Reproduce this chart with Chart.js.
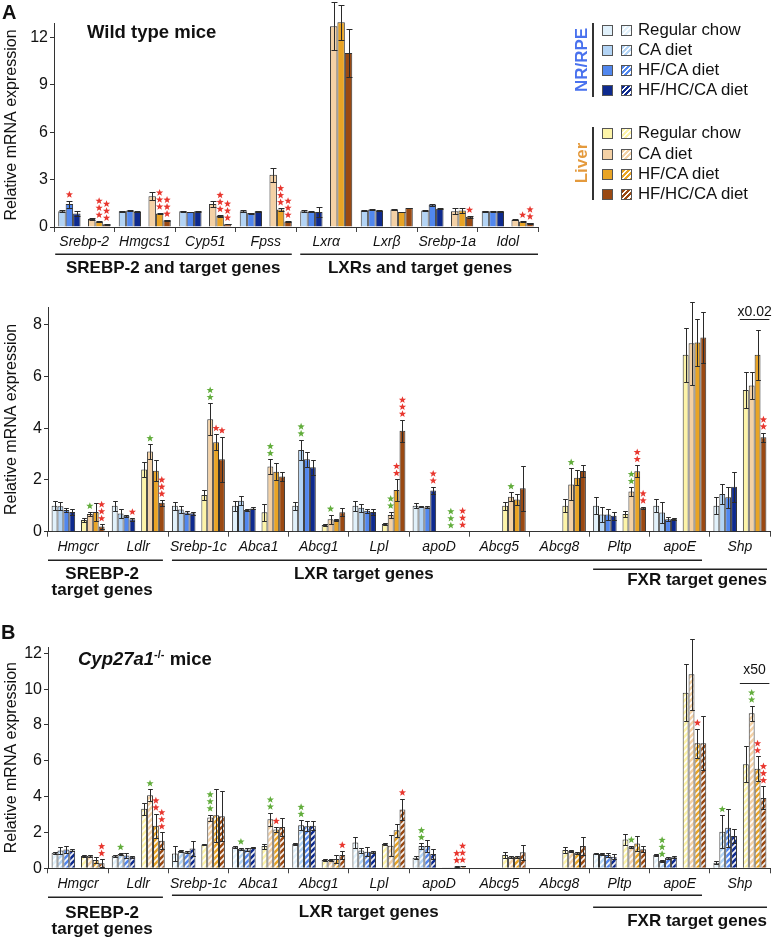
<!DOCTYPE html>
<html>
<head>
<meta charset="utf-8">
<title>Relative mRNA expression</title>
<script src="https://cdn.jsdelivr.net/npm/chart.js@4.4.1/dist/chart.umd.min.js"></script>
<style>
  body { margin: 0; background: #fff; }
  #fig { position: relative; width: 774px; height: 938px; overflow: hidden; font-family: "Liberation Sans", Arial, sans-serif; color: #111; }
  #fig canvas { position: absolute; left: 0; }
  .txt { position: absolute; white-space: nowrap; font-weight: bold; }
  .tissue { position: absolute; font-weight: bold; font-size: 17px; transform: translate(-50%, -50%) rotate(-90deg); white-space: nowrap; }
  .vline { position: absolute; width: 2px; background: #333; }
  .row { position: absolute; height: 18px; line-height: 18px; font-size: 16.8px; white-space: nowrap; }
  .sw { position: absolute; width: 11px; height: 11px; border: 1px solid #555; box-sizing: border-box; }
</style>
</head>
<body>
<div id="fig">
  <canvas id="wtTop" width="774" height="290" style="top:0px"></canvas>
  <canvas id="wtBottom" width="774" height="330" style="top:290px"></canvas>
  <canvas id="koChart" width="774" height="348" style="top:590px"></canvas>
  <div class="txt" style="left:2px; top:1px; font-size:20px;">A</div>
  <div class="txt" style="left:87px; top:21px; font-size:18.5px;">Wild type mice</div>
  <div class="txt" style="left:1px; top:621px; font-size:20px;">B</div>
  <div class="txt" style="left:78px; top:648px; font-size:18.5px;"><i>Cyp27a1</i><sup style="font-size:11px">-/-</sup> mice</div>
  <div id="legend"></div>
</div>
<script>
Chart.defaults.font.family = '"Liberation Sans", Arial, sans-serif';
Chart.defaults.color = "#111";

const RED = "#e8372f", GREEN = "#62ad3c";

// LEGEND / COLOURS
const dietLabels = ["Regular chow", "CA diet", "HF/CA diet", "HF/HC/CA diet"];
const retinaColors = ["#e1f1fb", "#b3d4f5", "#5187ee", "#0e2a8e"];
const liverColors = ["#fdf4a8", "#f4d1a5", "#e9a425", "#9a4912"];

// PANEL A, TOP (no regular chow)
const genesTop = ["Srebp-2", "Hmgcs1", "Cyp51", "Fpss", "Lxrα", "Lxrβ", "Srebp-1a", "Idol"];
const topRetCA   = [1.0, 1.0, 1.0, 1.0, 1.0, 1.05, 1.05, 1.0];
const topRetHF   = [1.45, 1.05, 0.95, 0.88, 0.97, 1.1, 1.4, 1.0];
const topRetHFHC = [0.85, 0.97, 1.0, 1.0, 0.95, 1.05, 1.15, 1.0];
const topLivCA   = [0.5, 1.95, 1.45, 3.3, 12.7, 1.1, 1.0, 0.45];
const topLivHF   = [0.35, 0.85, 0.7, 1.1, 12.95, 0.95, 1.05, 0.35];
const topLivHFHC = [0.17, 0.42, 0.18, 0.35, 11.0, 1.2, 0.65, 0.25];
const topRetCAErr   = [0.05, 0.03, 0.03, 0.08, 0.05, 0.03, 0.03, 0.03];
const topRetHFErr   = [0.22, 0.03, 0.03, 0.03, 0.05, 0.03, 0.05, 0.03];
const topRetHFHCErr = [0.15, 0.03, 0.03, 0.03, 0.3, 0.03, 0.04, 0.03];
const topLivCAErr   = [0.06, 0.25, 0.2, 0.45, 1.5, 0.03, 0.2, 0.03];
const topLivHFErr   = [0.03, 0.05, 0.05, 0.08, 1.1, 0.03, 0.15, 0.03];
const topLivHFHCErr = [0.02, 0.03, 0.02, 0.03, 1.5, 0.03, 0.05, 0.03];
// [gene, dataset, count, colour]
const topStars = [
  [0, 1, 1, "r"], [0, 5, 3, "r"], [0, 6, 3, "r"],
  [1, 5, 3, "r"], [1, 6, 3, "r"],
  [2, 5, 3, "r"], [2, 6, 3, "r"],
  [3, 5, 3, "r"], [3, 6, 3, "r"],
  [6, 6, 1, "r"],
  [7, 5, 1, "r"], [7, 6, 2, "r"]
];

// PANEL A, BOTTOM (wild type)
const genesTarget = ["Hmgcr", "Ldlr", "Srebp-1c", "Abca1", "Abcg1", "Lpl", "apoD", "Abcg5", "Abcg8", "Pltp", "apoE", "Shp"];
const wtRetRC   = [1.0, 1.0, 1.0, 1.0, 1.0, 1.0, 1.0, null, null, 1.0, 1.0, 1.0];
const wtRetCA   = [0.98, 0.7, 0.86, 1.2, 3.16, 0.93, 0.97, null, null, 0.67, 0.74, 1.46];
const wtRetHF   = [0.84, 0.62, 0.74, 0.84, 2.8, 0.81, 0.95, null, null, 0.67, 0.48, 1.33];
const wtRetHFHC = [0.76, 0.48, 0.71, 0.9, 2.49, 0.76, 1.59, null, null, 0.62, 0.49, 1.74];
const wtLivRC   = [0.45, 2.41, 1.42, 0.75, 0.26, 0.3, 0.01, 1.0, 1.0, 0.68, 6.84, 5.48];
const wtLivCA   = [0.68, 3.1, 4.35, 2.52, 0.48, 0.65, 0.01, 1.35, 1.83, 1.55, 7.29, 5.65];
const wtLivHF   = [0.76, 2.36, 3.46, 2.32, 0.45, 1.61, 0.01, 1.25, 2.09, 2.34, 7.32, 6.84];
const wtLivHFHC = [0.2, 1.12, 2.8, 2.13, 0.75, 3.9, 0.03, 1.68, 2.35, 0.93, 7.51, 3.65];
const wtRetRCErr   = [0.18, 0.2, 0.15, 0.2, 0.16, 0.2, 0.1, null, null, 0.33, 0.25, 0.33];
const wtRetCAErr   = [0.15, 0.18, 0.12, 0.18, 0.4, 0.15, 0.03, null, null, 0.3, 0.4, 0.4];
const wtRetHFErr   = [0.08, 0.04, 0.05, 0.04, 0.3, 0.08, 0.03, null, null, 0.22, 0.08, 0.4];
const wtRetHFHCErr = [0.1, 0.05, 0.05, 0.04, 0.28, 0.1, 0.15, null, null, 0.15, 0.03, 0.58];
const wtLivRCErr   = [0.08, 0.3, 0.18, 0.32, 0.04, 0.04, 0, 0.16, 0.25, 0.13, 1.05, 0.7];
const wtLivCAErr   = [0.08, 0.28, 0.62, 0.28, 0.17, 0.12, 0, 0.17, 0.62, 0.17, 1.6, 0.52];
const wtLivHFErr   = [0.35, 0.41, 0.31, 0.33, 0.03, 0.42, 0, 0.21, 0.3, 0.23, 0.9, 0.96];
const wtLivHFHCErr = [0.08, 0.11, 0.88, 0.17, 0.15, 0.42, 0, 0.87, 0.23, 0.04, 1.0, 0.18];
const wtStars = [
  [0, 6, 1, "g"], [0, 8, 3, "r"],
  [1, 3, 1, "r"], [1, 6, 1, "g"], [1, 8, 3, "r"],
  [2, 6, 2, "g"], [2, 7, 1, "r"], [2, 8, 1, "r"],
  [3, 6, 2, "g"],
  [4, 1, 2, "g"], [4, 6, 1, "g"],
  [5, 6, 2, "g"], [5, 7, 2, "r"], [5, 8, 3, "r"],
  [6, 3, 2, "r"], [6, 6, 3, "g"], [6, 8, 3, "r"],
  [7, 6, 1, "g"], [8, 6, 1, "g"],
  [9, 6, 2, "g"], [9, 7, 2, "r"], [9, 8, 2, "r"],
  [11, 8, 2, "r"]
];

// PANEL B (Cyp27a1-/-)
const koRetRC   = [0.87, 0.7, 0.83, 1.2, 1.35, 1.44, 0.59, null, null, 0.83, 0.74, 0.31];
const koRetCA   = [1.0, 0.8, 0.96, 1.09, 2.4, 1.0, 1.24, null, null, 0.8, 0.41, 2.04];
const koRetHF   = [1.05, 0.72, 0.9, 1.05, 2.35, 0.93, 1.24, null, null, 0.74, 0.59, 2.26];
const koRetHFHC = [1.0, 0.65, 1.1, 1.15, 2.37, 0.93, 0.8, null, null, 0.65, 0.61, 1.8];
const koLivRC   = [0.68, 3.33, 1.33, 1.24, 0.46, 1.35, 0.02, 0.74, 1.02, 1.61, 9.8, 5.8];
const koLivCA   = [0.7, 4.07, 2.83, 2.74, 0.46, 1.26, 0.02, 0.65, 0.96, 1.2, 10.83, 8.65];
const koLivHF   = [0.46, 2.37, 2.96, 2.17, 0.52, 2.13, 0.1, 0.65, 0.87, 1.39, 6.98, 5.56];
const koLivHFHC = [0.28, 1.54, 2.9, 2.31, 0.74, 3.28, 0.12, 0.89, 1.24, 1.07, 6.98, 3.93];
const koRetRCErr   = [0.05, 0.05, 0.4, 0.05, 0.05, 0.28, 0.08, null, null, 0.05, 0.05, 0.08];
const koRetCAErr   = [0.2, 0.05, 0.05, 0.06, 0.29, 0.15, 0.15, null, null, 0.05, 0.05, 0.92];
const koRetHFErr   = [0.2, 0.15, 0.05, 0.08, 0.28, 0.24, 0.33, null, null, 0.1, 0.05, 1.07];
const koRetHFHCErr = [0.05, 0.05, 0.4, 0.04, 0.25, 0.05, 0.3, null, null, 0.15, 0.05, 0.37];
const koLivRCErr   = [0.05, 0.34, 0.05, 0.14, 0.05, 0.05, 0, 0.19, 0.15, 0.3, 1.6, 1.0];
const koLivCAErr   = [0.05, 0.33, 0.17, 0.36, 0.05, 0.6, 0, 0.05, 0.05, 0.05, 1.97, 0.42];
const koLivHFErr   = [0.19, 0.68, 1.48, 0.13, 0.22, 0.37, 0.01, 0.05, 0.05, 0.41, 0.8, 0.68];
const koLivHFHCErr = [0.22, 0.46, 1.4, 0.49, 0.22, 0.61, 0.01, 0.41, 0.52, 0.17, 1.52, 0.64];
const koStars = [
  [0, 8, 2, "r"],
  [1, 1, 1, "g"], [1, 6, 1, "g"], [1, 7, 2, "r"], [1, 8, 3, "r"],
  [2, 6, 3, "g"],
  [3, 1, 1, "g"], [3, 6, 2, "g"], [3, 7, 1, "r"],
  [4, 1, 2, "g"], [4, 8, 1, "r"],
  [5, 8, 1, "r"],
  [6, 1, 2, "g"], [6, 7, 2, "r"], [6, 8, 3, "r"],
  [9, 6, 1, "g"],
  [10, 1, 3, "g"], [10, 7, 1, "r"],
  [11, 1, 1, "g"], [11, 6, 2, "g"], [11, 7, 2, "r"], [11, 8, 3, "r"]
];

// hatched fill for the knockout bars
function hatch(color) {
  const c = document.createElement("canvas");
  c.width = c.height = 6;
  const g = c.getContext("2d");
  g.fillStyle = color;
  g.fillRect(0, 0, 6, 6);
  g.strokeStyle = "rgba(255,255,255,0.95)";
  g.lineWidth = 1.7;
  g.beginPath();
  g.moveTo(-1, 7); g.lineTo(7, -1);
  g.moveTo(-1, 1); g.lineTo(1, -1);
  g.moveTo(5, 7); g.lineTo(7, 5);
  g.stroke();
  return g.createPattern(c, "repeat");
}

function barSet(data, errors, fill, pct) {
  return { data, errors, backgroundColor: fill, borderColor: "#333", borderWidth: 1,
           categoryPercentage: pct, barPercentage: 1, clip: false };
}
function spacer(n, pct) {
  return { data: new Array(n).fill(null), categoryPercentage: pct, barPercentage: 1 };
}

function drawStar(ctx, x, y, color) {
  ctx.fillStyle = color;
  ctx.beginPath();
  for (let k = 0; k < 10; k++) {
    const r = k % 2 ? 1.6 : 3.8;
    const a = -Math.PI / 2 + k * Math.PI / 5;
    ctx.lineTo(x + r * Math.cos(a), y + r * Math.sin(a));
  }
  ctx.closePath();
  ctx.fill();
}

// error bars, stars, gene group labels
const annotate = {
  id: "annotate",
  afterDatasetsDraw(chart, args, opts) {
    const ctx = chart.ctx, y = chart.scales.y;
    ctx.save();
    ctx.strokeStyle = "#2a2a2a";
    ctx.lineWidth = 1;
    chart.data.datasets.forEach((ds, di) => {
      if (!ds.errors) return;
      chart.getDatasetMeta(di).data.forEach((bar, i) => {
        const v = ds.data[i], e = ds.errors[i];
        if (v == null || !e) return;
        const x = Math.round(bar.x) + 0.5;
        const yt = Math.round(y.getPixelForValue(v + e)) + 0.5;
        const yb = Math.round(y.getPixelForValue(Math.max(0, v - e))) + 0.5;
        const h = Math.max(2, bar.width * 0.4);
        ctx.beginPath();
        ctx.moveTo(x, yt); ctx.lineTo(x, yb);
        ctx.moveTo(x - h, yt); ctx.lineTo(x + h, yt);
        ctx.moveTo(x - h, yb); ctx.lineTo(x + h, yb);
        ctx.stroke();
      });
    });
    (opts.stars || []).forEach(([cat, di, n, c]) => {
      const ds = chart.data.datasets[di];
      const bar = chart.getDatasetMeta(di).data[cat];
      const top = ds.data[cat] + (ds.errors[cat] || 0);
      const y0 = y.getPixelForValue(top) - 6;
      for (let k = 0; k < n; k++) drawStar(ctx, bar.x, y0 - k * 7, c === "r" ? RED : GREEN);
    });
    ctx.restore();
  },
  afterDraw(chart, args, opts) {
    const ctx = chart.ctx, x = chart.scales.x, area = chart.chartArea;
    const catW = (x.right - x.left) / chart.data.labels.length;
    const px = pos => x.left + pos * catW;
    ctx.save();
    ctx.strokeStyle = "#222";
    ctx.lineWidth = 1.5;
    ctx.fillStyle = "#111";
    ctx.font = 'bold 17px "Liberation Sans", Arial, sans-serif';
    ctx.textBaseline = "middle";
    (opts.groups || []).forEach(g => {
      const ly = Math.round(area.bottom + g.dy) + 0.25;
      ctx.beginPath();
      ctx.moveTo(px(g.from), ly);
      ctx.lineTo(px(g.to), ly);
      ctx.stroke();
      ctx.textAlign = g.align || "center";
      g.label.forEach((t, k) => ctx.fillText(t, px(g.at), area.bottom + g.ty + k * 16));
    });
    const note = opts.note;
    if (note) {
      const bars = note.sets.map(di => chart.getDatasetMeta(di).data[note.cat]);
      const l = bars[0].x - bars[0].width / 2 - 3;
      const r = bars[bars.length - 1].x + bars[bars.length - 1].width / 2 + 3;
      ctx.font = '14px "Liberation Sans", Arial, sans-serif';
      ctx.textAlign = "center";
      ctx.fillText(note.text, (l + r) / 2, area.top + note.dy);
      ctx.lineWidth = 1;
      ctx.beginPath();
      ctx.moveTo(l, Math.round(area.top + note.lineDy) + 0.5);
      ctx.lineTo(r, Math.round(area.top + note.lineDy) + 0.5);
      ctx.stroke();
    }
    ctx.restore();
  }
};

function panelOptions(cfg) {
  return {
    responsive: false,
    animation: false,
    layout: { padding: { top: cfg.top, right: cfg.right, left: 0, bottom: 0 } },
    plugins: {
      legend: { display: false },
      tooltip: { enabled: false },
      annotate: { stars: cfg.stars, groups: cfg.groups, note: cfg.note }
    },
    scales: {
      x: {
        grid: { offset: true, drawOnChartArea: false, tickLength: 5, color: "#444" },
        border: { color: "#333", width: 1 },
        ticks: { font: { size: 14, style: "italic" }, color: "#111", padding: 2, maxRotation: 0, autoSkip: false },
        afterFit: s => { s.height = cfg.xh; }
      },
      y: {
        min: 0, max: cfg.max,
        border: { color: "#333", width: 1 },
        grid: { drawOnChartArea: false, tickLength: 4, color: "#333" },
        ticks: { stepSize: cfg.step, includeBounds: false, font: { size: 16 }, color: "#111", padding: 2 },
        title: { display: true, text: "Relative mRNA expression", font: { size: 16 }, color: "#111", padding: { top: 2, bottom: 0 } },
        afterFit: s => { s.width = cfg.yw; }
      }
    }
  };
}

// A: top chart
const pTop = 0.86;
new Chart(document.getElementById("wtTop"), {
  type: "bar",
  data: {
    labels: genesTop,
    datasets: [
      barSet(topRetCA, topRetCAErr, retinaColors[1], pTop),
      barSet(topRetHF, topRetHFErr, retinaColors[2], pTop),
      barSet(topRetHFHC, topRetHFHCErr, retinaColors[3], pTop),
      spacer(genesTop.length, pTop),
      barSet(topLivCA, topLivCAErr, liverColors[1], pTop),
      barSet(topLivHF, topLivHFErr, liverColors[2], pTop),
      barSet(topLivHFHC, topLivHFHCErr, liverColors[3], pTop)
    ]
  },
  options: panelOptions({
    top: 23, right: 236, yw: 54, xh: 63, max: 12.9, step: 3, stars: topStars,
    groups: [
      { from: 0.02, to: 3.93, dy: 27, at: 1.97, ty: 41, label: ["SREBP-2 and target genes"] },
      { from: 4.07, to: 8, dy: 27, at: 6.05, ty: 41, label: ["LXRs and target genes"] }
    ]
  }),
  plugins: [annotate]
});

// A: wild type target genes
const pMid = 0.88;
new Chart(document.getElementById("wtBottom"), {
  type: "bar",
  data: {
    labels: genesTarget,
    datasets: [
      barSet(wtRetRC, wtRetRCErr, retinaColors[0], pMid),
      barSet(wtRetCA, wtRetCAErr, retinaColors[1], pMid),
      barSet(wtRetHF, wtRetHFErr, retinaColors[2], pMid),
      barSet(wtRetHFHC, wtRetHFHCErr, retinaColors[3], pMid),
      spacer(genesTarget.length, pMid),
      barSet(wtLivRC, wtLivRCErr, liverColors[0], pMid),
      barSet(wtLivCA, wtLivCAErr, liverColors[1], pMid),
      barSet(wtLivHF, wtLivHFErr, liverColors[2], pMid),
      barSet(wtLivHFHC, wtLivHFHCErr, liverColors[3], pMid)
    ]
  },
  options: panelOptions({
    top: 17, right: 4, yw: 48, xh: 88.3, max: 8.69, step: 2, stars: wtStars,
    groups: [
      { from: 0, to: 1.91, dy: 28, at: 0.9, ty: 43, label: ["SREBP-2", "target genes"] },
      { from: 2.06, to: 10.87, dy: 28, at: 5.25, ty: 43, label: ["LXR target genes"] },
      { from: 9.06, to: 11.95, dy: 37, at: 11.95, ty: 49, align: "right", label: ["FXR target genes"] }
    ],
    note: { cat: 11, sets: [5, 6, 7, 8], text: "x0.02", dy: 5, lineDy: 12 }
  }),
  plugins: [annotate]
});

// B: knockout
new Chart(document.getElementById("koChart"), {
  type: "bar",
  data: {
    labels: genesTarget,
    datasets: [
      barSet(koRetRC, koRetRCErr, hatch(retinaColors[0]), pMid),
      barSet(koRetCA, koRetCAErr, hatch(retinaColors[1]), pMid),
      barSet(koRetHF, koRetHFErr, hatch(retinaColors[2]), pMid),
      barSet(koRetHFHC, koRetHFHCErr, hatch(retinaColors[3]), pMid),
      spacer(genesTarget.length, pMid),
      barSet(koLivRC, koLivRCErr, hatch(liverColors[0]), pMid),
      barSet(koLivCA, koLivCAErr, hatch(liverColors[1]), pMid),
      barSet(koLivHF, koLivHFErr, hatch(liverColors[2]), pMid),
      barSet(koLivHFHC, koLivHFHCErr, hatch(liverColors[3]), pMid)
    ]
  },
  options: panelOptions({
    top: 57, right: 4, yw: 48, xh: 69.7, max: 12.35, step: 2, stars: koStars,
    groups: [
      { from: 0, to: 1.91, dy: 29, at: 0.9, ty: 45, label: ["SREBP-2", "target genes"] },
      { from: 2.06, to: 10.87, dy: 27, at: 5.33, ty: 44, label: ["LXR target genes"] },
      { from: 9.06, to: 11.95, dy: 39, at: 11.95, ty: 53, align: "right", label: ["FXR target genes"] }
    ],
    note: { cat: 11, sets: [5, 6, 7, 8], text: "x50", dy: 23, lineDy: 36 }
  }),
  plugins: [annotate]
});

// LEGEND
const legend = document.getElementById("legend");
function legendBlock(name, nameColor, colors, rowsY, lineTop, lineBottom, nameY) {
  let html = `<div class="tissue" style="left:582px; top:${nameY}px; color:${nameColor}">${name}</div>`;
  html += `<div class="vline" style="left:592px; top:${lineTop}px; height:${lineBottom - lineTop}px"></div>`;
  dietLabels.forEach((label, i) => {
    const c = colors[i];
    html += `<div class="sw" style="left:602px; top:${rowsY[i] - 5}px; background:${c}"></div>`;
    html += `<div class="sw" style="left:621px; top:${rowsY[i] - 5}px; background:repeating-linear-gradient(135deg, ${c} 0 2.2px, #fff 2.2px 3.8px)"></div>`;
    html += `<div class="row" style="left:638px; top:${rowsY[i] - 9}px">${label}</div>`;
  });
  legend.insertAdjacentHTML("beforeend", html);
}
legendBlock("NR/RPE", "#4a72ee", retinaColors, [30, 50, 70, 90], 23, 97, 60);
legendBlock("Liver", "#e49a3d", liverColors, [133, 154, 174, 194], 127, 200, 163);
</script>
</body>
</html>
